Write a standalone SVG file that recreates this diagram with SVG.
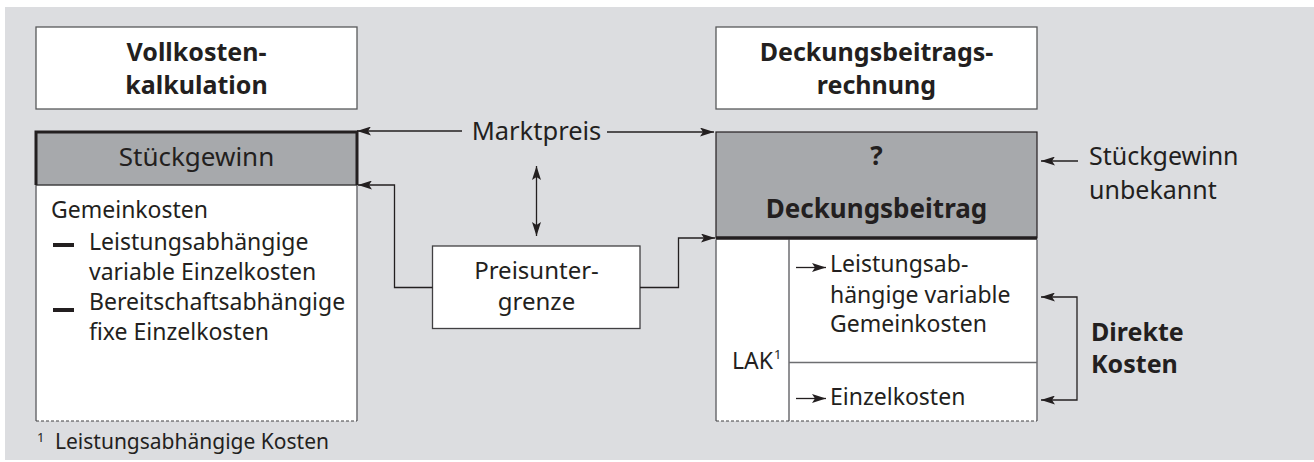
<svg xmlns="http://www.w3.org/2000/svg" width="1314" height="462" viewBox="0 0 1314 462">
<defs>
<marker id="ah" viewBox="0 0 14 9" refX="14" refY="4.5" markerWidth="14" markerHeight="9" markerUnits="userSpaceOnUse" orient="auto-start-reverse">
<path d="M0,0 L14,4.5 L0,9 L3,4.5 z" fill="#231f20"/>
</marker>
<style>
text{font-family:"Noto Sans","Open Sans","Liberation Sans",sans-serif;fill:#231f20}
.b{font-weight:bold}
.t{font-size:25px;text-anchor:middle}
.l{font-size:26px}
.m{font-size:23px}
.c{text-anchor:middle}
.box{fill:#fff;stroke:#58595b;stroke-width:1.3}
.gray{fill:#a7a9ac}
.side{stroke:#6d6e71;stroke-width:1.5;fill:none}
.dash{stroke:#414042;stroke-width:1.2;stroke-dasharray:3 2;fill:none}
.con{stroke:#231f20;stroke-width:1.3;fill:none}
</style>
</defs>
<rect x="5" y="7" width="1309" height="453" fill="#dcdde0"/>

<g id="title-left">
<rect class="box" x="36" y="27" width="321" height="82"/>
<text class="b t" x="196.5" y="61">Vollkosten-</text>
<text class="b t" x="196.5" y="94">kalkulation</text>
</g>

<g id="title-right">
<rect class="box" x="716" y="27" width="321" height="82"/>
<text class="b t" x="876.5" y="61">Deckungsbeitrags-</text>
<text class="b t" x="876.5" y="94">rechnung</text>
</g>

<g id="vollkosten-box">
<rect x="36" y="184" width="321" height="237" fill="#fff"/>
<path class="side" d="M36,184 V421 M357,184 V421"/>
<path class="dash" d="M36,421 H357"/>
<rect class="gray" x="36" y="132" width="321" height="53"/>
<path d="M36,185 H357" stroke="#414042" stroke-width="1.5"/>
<path d="M36,185 V132 H357 V185" stroke="#231f20" stroke-width="3" fill="none"/>
<text class="l c" x="196.5" y="166">Stückgewinn</text>
<text class="m" x="51" y="218">Gemeinkosten</text>
<rect x="53" y="243" width="21" height="4" fill="#231f20"/>
<text class="m" x="89" y="250">Leistungsabhängige</text>
<text class="m" x="89" y="280">variable Einzelkosten</text>
<rect x="53" y="308" width="21" height="4" fill="#231f20"/>
<text class="m" x="89" y="310">Bereitschaftsabhängige</text>
<text class="m" x="89" y="340">fixe Einzelkosten</text>
</g>

<g id="marktpreis">
<text class="c" x="536.5" y="140" font-size="25.5">Marktpreis</text>
</g>

<g id="preisuntergrenze">
<rect x="432.5" y="246" width="207.5" height="82.5" fill="#fff" stroke="#414042" stroke-width="1.3"/>
<text class="c" x="536.5" y="278.5" font-size="24">Preisunter-</text>
<text class="c" x="536.5" y="310" font-size="24">grenze</text>
</g>

<g id="db-box">
<rect class="gray" x="716" y="132" width="321" height="106" stroke="#231f20" stroke-width="1.2"/>
<rect x="716" y="239.5" width="321" height="181.5" fill="#fff"/>
<path class="side" d="M716,239.5 V421 M1037,239.5 V421 M789,239.5 V421"/>
<path d="M789,362.5 H1037" stroke="#6d6e71" stroke-width="1.3"/>
<path class="dash" d="M716,421 H1037"/>
<path d="M716,238 H1037" stroke="#231f20" stroke-width="3.5"/>
<text class="b l c" x="876.5" y="165">?</text>
<text class="b l c" x="876.5" y="218">Deckungsbeitrag</text>
<text class="m" x="732" y="369">LAK</text>
<text x="774" y="359" font-size="13">1</text>
<text class="m" x="830" y="272">Leistungsab-</text>
<text class="m" x="830" y="302.5">hängige variable</text>
<text class="m" x="830" y="332">Gemeinkosten</text>
<text class="m" x="830" y="405">Einzelkosten</text>
</g>

<g id="stueckgewinn-unbekannt">
<text x="1089" y="165" font-size="25">Stückgewinn</text>
<text x="1089" y="199" font-size="25">unbekannt</text>
</g>

<g id="direkte-kosten">
<text class="b" x="1091" y="341" font-size="25">Direkte</text>
<text class="b" x="1091" y="373" font-size="25">Kosten</text>
</g>

<g id="footnote">
<text x="37" y="442" font-size="13">1</text>
<text x="55" y="449" font-size="21">Leistungsabhängige Kosten</text>
</g>

<g id="connectors">
<path class="con" d="M462,131 H357" marker-end="url(#ah)"/>
<path class="con" d="M607,132 H714" marker-end="url(#ah)"/>
<path class="con" d="M536.5,236 V166" marker-start="url(#ah)" marker-end="url(#ah)"/>
<path class="con" d="M432.5,287.5 H394.5 V185 H358" marker-end="url(#ah)"/>
<path class="con" d="M640,287.5 H678.5 V238 H715" marker-end="url(#ah)"/>
<path class="con" d="M1078,161 H1041" marker-end="url(#ah)"/>
<path class="con" d="M1041,297 H1077 V400 H1041" marker-start="url(#ah)" marker-end="url(#ah)"/>
<path class="con" d="M796,267.5 H826" marker-end="url(#ah)"/>
<path class="con" d="M796,398.5 H826" marker-end="url(#ah)"/>
</g>
</svg>
